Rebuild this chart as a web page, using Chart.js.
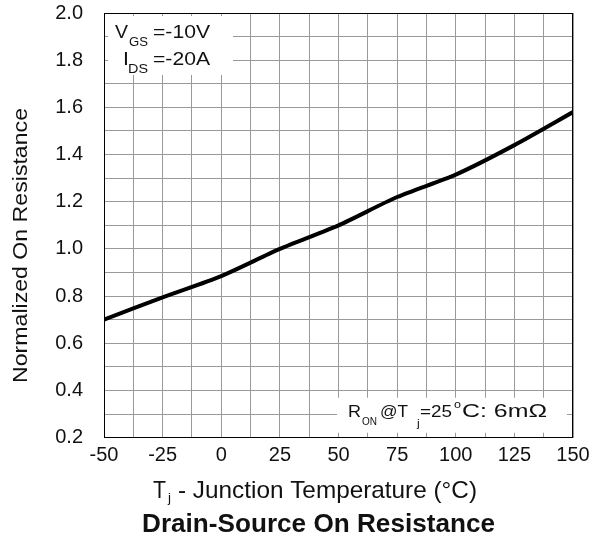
<!DOCTYPE html>
<html>
<head>
<meta charset="utf-8">
<script src="https://cdn.jsdelivr.net/npm/chart.js@4"></script>
<style>
  html, body { margin: 0; padding: 0; background: #fff; }
</style>
</head>
<body>
<canvas id="chart" width="589" height="537"></canvas>
<script>
'use strict';

// junction temperature (°C) vs normalized on-resistance
const temps = [-50, -25, 0, 25, 50, 75, 100, 125, 150];
const rOn = [0.70, 0.795, 0.885, 1.00, 1.10, 1.22, 1.315, 1.44, 1.58];

// labelled ticks (grid is drawn at half these steps)
const xTickLabels = [-50, -25, 0, 25, 50, 75, 100, 125, 150];
const yTickLabels = [0.2, 0.4, 0.6, 0.8, 1.0, 1.2, 1.4, 1.6, 1.8, 2.0];

const FONT = '"Liberation Sans", Arial, sans-serif';
const INK = '#111';

let canvasElem = document.getElementById('chart');

// the source lettering is wider than Arial, so each piece is stretched
// to span x0..x1 (or a default widening when x1 is not given)
function fitText(ctx, t, x0, x1, base, size, weight) {
  ctx.font = (weight || 'normal') + ' ' + size + 'px ' + FONT;
  let w = ctx.measureText(t).width;
  let s = x1 ? (x1 - x0) / w : 1.12;
  ctx.save();
  ctx.translate(x0, base);
  ctx.scale(s, 1);
  ctx.fillText(t, 0, 0);
  ctx.restore();
}

const overlay = {
  id: 'overlay',
  beforeDatasetsDraw(chart) {
    let ctx = chart.ctx;
    let a = chart.chartArea;
    ctx.save();
    ctx.fillStyle = '#fff';
    // condition boxes hide the grid behind them
    ctx.fillRect(a.left + 4, a.top + 3, 125, 59);
    ctx.fillRect(a.left + 233, a.bottom - 40, a.right - a.left - 239, 35);
    ctx.restore();
  },
  afterDraw(chart) {
    let ctx = chart.ctx;
    let a = chart.chartArea;
    ctx.save();

    // frame
    ctx.strokeStyle = '#000';
    ctx.lineWidth = 1;
    ctx.strokeRect(Math.round(a.left) + 0.5, Math.round(a.top) + 0.5,
      Math.round(a.right - a.left) - 1, Math.round(a.bottom - a.top) - 1);

    ctx.fillStyle = INK;
    ctx.textBaseline = 'alphabetic';
    ctx.textAlign = 'left';

    // test conditions, top left
    fitText(ctx, 'V', 115, 128, 38, 19);
    fitText(ctx, 'GS', 129, 148, 46, 12);
    fitText(ctx, '=-10V', 153, 210, 38, 19);
    fitText(ctx, 'I', 123, null, 65, 19);
    fitText(ctx, 'DS', 128, 148, 73, 12);
    fitText(ctx, '=-20A', 153, 210, 65, 19);

    // reference value, bottom right
    fitText(ctx, 'R', 348, 361, 417, 17);
    fitText(ctx, 'ON', 362, 377, 425, 11);
    fitText(ctx, '@T', 380, 408, 417, 17);
    fitText(ctx, 'j', 417, null, 427, 11);
    fitText(ctx, '=25', 420, 452, 417, 17);
    fitText(ctx, 'o', 454, 461, 408, 11);
    fitText(ctx, 'C: 6m\u03A9', 462, 547, 417, 18);

    // y axis title, reads bottom to top
    ctx.save();
    ctx.translate(27, 383);
    ctx.rotate(-Math.PI / 2);
    fitText(ctx, 'Normalized On Resistance', 0, 275, 0, 21);
    ctx.restore();

    // x axis title with subscript
    fitText(ctx, 'T', 153, 166, 498, 24);
    fitText(ctx, 'j', 168, null, 502, 12);
    fitText(ctx, '- Junction Temperature (\u00B0C)', 178, 477, 498, 24);

    // chart title
    fitText(ctx, 'Drain-Source On Resistance', 142, 495, 532, 26, 'bold');

    ctx.restore();
  }
};

function renderChart() {
  let points = [];
  for (let i = 0; i < temps.length; i++) {
    points.push({ x: temps[i], y: rOn[i] });
  }

  let chartObj = {
    type: 'line',
    data: {
      datasets: [{
        label: 'Normalized On Resistance',
        data: points,
        borderColor: '#000',
        borderWidth: 4,
        pointRadius: 0,
        tension: 0.25,
        fill: false
      }]
    },
    options: {
      responsive: false,
      animation: false,
      layout: {
        padding: { top: 13, right: 16, left: 0, bottom: 0 }
      },
      plugins: {
        legend: { display: false },
        tooltip: { enabled: false }
      },
      scales: {
        x: {
          type: 'linear',
          min: -50,
          max: 150,
          afterFit: function(scale) {
            scale.height = 99.3;
            scale.paddingLeft = 0;
            scale.paddingRight = 0;
          },
          grid: { color: '#999', lineWidth: 1, drawTicks: false },
          border: { display: false },
          ticks: {
            stepSize: 12.5,
            autoSkip: false,
            maxRotation: 0,
            padding: 6,
            color: INK,
            font: { family: FONT, size: 20 },
            callback: function(v) {
              return xTickLabels.indexOf(v) >= 0 ? String(v) : '';
            }
          }
        },
        y: {
          min: 0.2,
          max: 2.0,
          afterFit: function(scale) {
            scale.width = 104;
            scale.paddingTop = 0;
            scale.paddingBottom = 0;
          },
          grid: { color: '#999', lineWidth: 1, drawTicks: false },
          border: { display: false },
          ticks: {
            stepSize: 0.1,
            autoSkip: false,
            padding: 21,
            color: INK,
            font: { family: FONT, size: 20 },
            callback: function(v) {
              let r = Math.round(v * 10) / 10;
              return yTickLabels.indexOf(r) >= 0 && Math.round(v * 10) % 2 === 0 ? r.toFixed(1) : '';
            }
          }
        }
      }
    },
    plugins: [overlay]
  };
  new Chart(canvasElem, chartObj);
}

renderChart();
</script>
</body>
</html>
